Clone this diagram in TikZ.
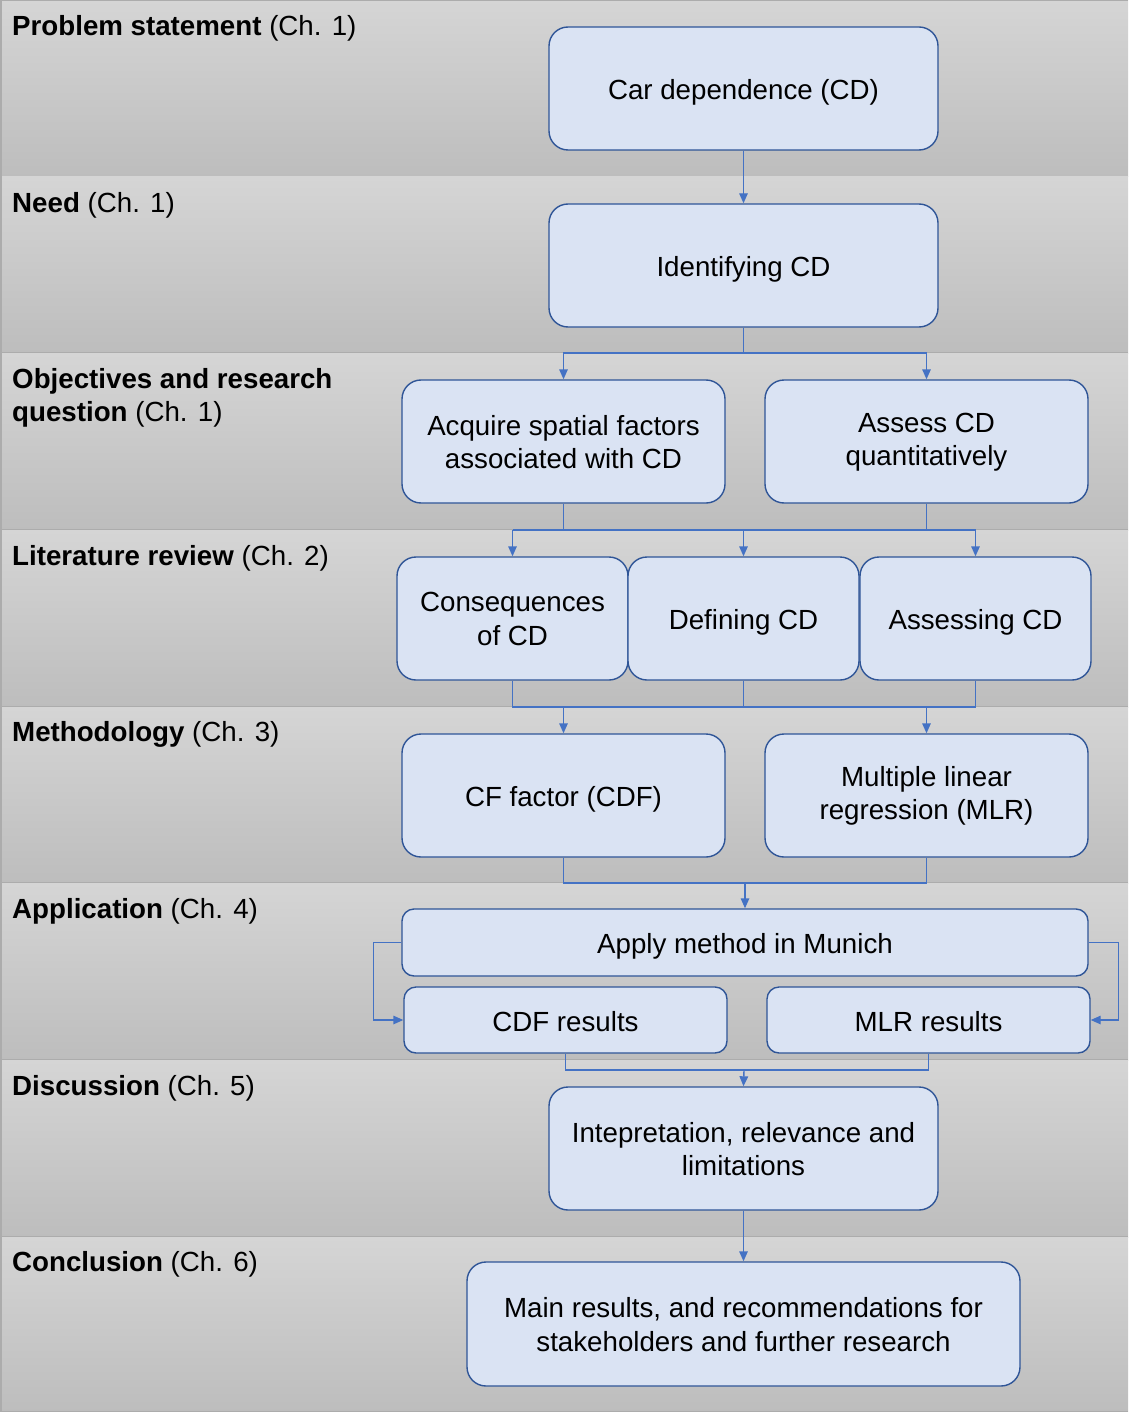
\documentclass[tikz,border=0pt]{standalone}
\usepackage{fontspec}
\setmainfont{Liberation Sans}
\usetikzlibrary{arrows.meta,positioning}
\definecolor{bandtop}{RGB}{213,213,213}
\definecolor{bandbot}{RGB}{189,189,189}
\definecolor{bandline}{RGB}{172,172,172}
\definecolor{boxfill}{RGB}{218,227,243}
\definecolor{boxline}{RGB}{47,85,151}
\definecolor{connc}{RGB}{68,114,196}
\begin{document}
\begin{tikzpicture}[x=1pt,y=1pt,
  every node/.style={font=\fontsize{27.7}{33.5}\selectfont, text=black},
  stepbox/.style={draw=boxline, fill=boxfill, line width=1.4pt, rounded corners=19pt,
    inner sep=0pt},
  flatbox/.style={stepbox, rounded corners=12pt},
  txt/.style={align=center, inner sep=0pt, yshift=-3.5pt},
  txttwo/.style={align=center, inner sep=0pt, yshift=-0.5pt},
  txtsmall/.style={align=center, inner sep=0pt, yshift=-1.5pt},
  conn/.style={draw=connc, line width=1.4pt},
  arr/.style={conn, -{Triangle[length=10pt,width=8.5pt]}},
  bandlabel/.style={anchor=north west, align=left, inner sep=0pt}
]
\useasboundingbox (0,0) rectangle (1128,-1412);
% bands
\foreach \t/\b in {0/177,177/353,353/530,530/707,707/883,883/1060,1060/1237,1237/1412}{
  \shade[top color=bandtop, bottom color=bandbot] (0,-\t) rectangle (1128,-\b);
  \draw[bandline, line width=1.2pt] (0,-\b) -- (1128,-\b);
}
\draw[bandline, line width=1.5pt] (0.75,0) -- (0.75,-1412);
\draw[bandline, line width=1.5pt] (0,-0.75) -- (1128,-0.75);

% labels
\node[bandlabel] (l1) at (12,-15) {\textbf{Problem statement} (Ch. 1)};
\node[bandlabel] (l2) at (12,-192) {\textbf{Need} (Ch. 1)};
\node[bandlabel] (l3) at (12,-368) {\textbf{Objectives and research}\\\textbf{question} (Ch. 1)};
\node[bandlabel] (l4) at (12,-545) {\textbf{Literature review} (Ch. 2)};
\node[bandlabel] (l5) at (12,-721) {\textbf{Methodology} (Ch. 3)};
\node[bandlabel] (l6) at (12,-898) {\textbf{Application} (Ch. 4)};
\node[bandlabel] (l7) at (12,-1075) {\textbf{Discussion} (Ch. 5)};
\node[bandlabel] (l8) at (12,-1251) {\textbf{Conclusion} (Ch. 6)};

% boxes
\node[stepbox, minimum width=389pt, minimum height=123pt] (cd) at (743.5,-88.5) {};
\node[stepbox, minimum width=389pt, minimum height=123pt] (idcd) at (743.5,-265.5) {};
\node[stepbox, minimum width=323pt, minimum height=123pt] (acq) at (563.5,-441.5) {};
\node[stepbox, minimum width=323pt, minimum height=123pt] (ass) at (926.5,-441.5) {};
\node[stepbox, minimum width=231pt, minimum height=123pt] (con) at (512.5,-618.5) {};
\node[stepbox, minimum width=231pt, minimum height=123pt] (def) at (743.5,-618.5) {};
\node[stepbox, minimum width=231pt, minimum height=123pt] (asg) at (975.5,-618.5) {};
\node[stepbox, minimum width=323pt, minimum height=123pt] (cdf) at (563.5,-795.5) {};
\node[stepbox, minimum width=323pt, minimum height=123pt] (mlr) at (926.5,-795.5) {};
\node[flatbox, minimum width=686pt, minimum height=67pt] (app) at (745,-942.5) {};
\node[flatbox, minimum width=323pt, minimum height=66pt] (cdfr) at (565.5,-1020) {};
\node[flatbox, minimum width=323pt, minimum height=66pt] (mlrr) at (928.5,-1020) {};
\node[stepbox, minimum width=389pt, minimum height=123pt] (int) at (743.5,-1148.5) {};
\node[stepbox, minimum width=553pt, minimum height=124pt] (main) at (743.5,-1324) {};

% box texts
\node[txt] (cdt) at (cd) {Car dependence (CD)};
\node[txt] (idcdt) at (idcd) {Identifying CD};
\node[txttwo] (acqt) at (acq) {Acquire spatial factors\\associated with CD};
\node[txttwo] (asst) at (ass) {Assess CD\\quantitatively};
\node[txttwo] (cont) at (con) {Consequences\\of CD};
\node[txt] (deft) at (def) {Defining CD};
\node[txt] (asgt) at (asg) {Assessing CD};
\node[txt] (cdft) at (cdf) {CF factor (CDF)};
\node[txttwo] (mlrt) at (mlr) {Multiple linear\\regression (MLR)};
\node[txt] (appt) at (app) {Apply method in Munich};
\node[txtsmall] (cdfrt) at (cdfr) {CDF results};
\node[txtsmall] (mlrrt) at (mlrr) {MLR results};
\node[txttwo] (intt) at (int) {Intepretation, relevance and\\limitations};
\node[txttwo] (maint) at (main) {Main results, and recommendations for\\stakeholders and further research};

% junction coordinates
\coordinate (j1) at (743.5,-353);
\coordinate (j2) at (743.5,-530);
\coordinate (j3) at (743.5,-707);
\coordinate (j4) at (745,-883);
\coordinate (j5) at (744,-1070);

% connectors
\draw[arr] (cd.south) -- (idcd.north);
\draw[conn] (idcd.south) -- (j1);
\draw[arr] (j1) -| (acq.north);
\draw[arr] (j1) -| (ass.north);

\draw[conn] (acq.south) -- (acq.south |- j2);
\draw[conn] (ass.south) -- (ass.south |- j2);
\draw[conn] (con.north |- j2) -- (asg.north |- j2);
\draw[arr] (con.north |- j2) -- (con.north);
\draw[arr] (def.north |- j2) -- (def.north);
\draw[arr] (asg.north |- j2) -- (asg.north);

\draw[conn] (con.south) -- (con.south |- j3) -- (asg.south |- j3) -- (asg.south);
\draw[conn] (def.south) -- (def.south |- j3);
\draw[arr] (cdf.north |- j3) -- (cdf.north);
\draw[arr] (mlr.north |- j3) -- (mlr.north);

\draw[conn] (cdf.south) -- (cdf.south |- j4) -- (mlr.south |- j4) -- (mlr.south);
\draw[arr] (j4) -- (app.north);

\draw[arr] (app.west) -- ++(-28,0) |- (cdfr.west);
\draw[arr] (app.east) -- ++(30,0) |- (mlrr.east);

\draw[conn] (cdfr.south) -- (cdfr.south |- j5) -- (mlrr.south |- j5) -- (mlrr.south);
\draw[arr] (j5) -- (int.north);

\draw[arr] (int.south) -- (main.north);
\end{tikzpicture}
\end{document}
